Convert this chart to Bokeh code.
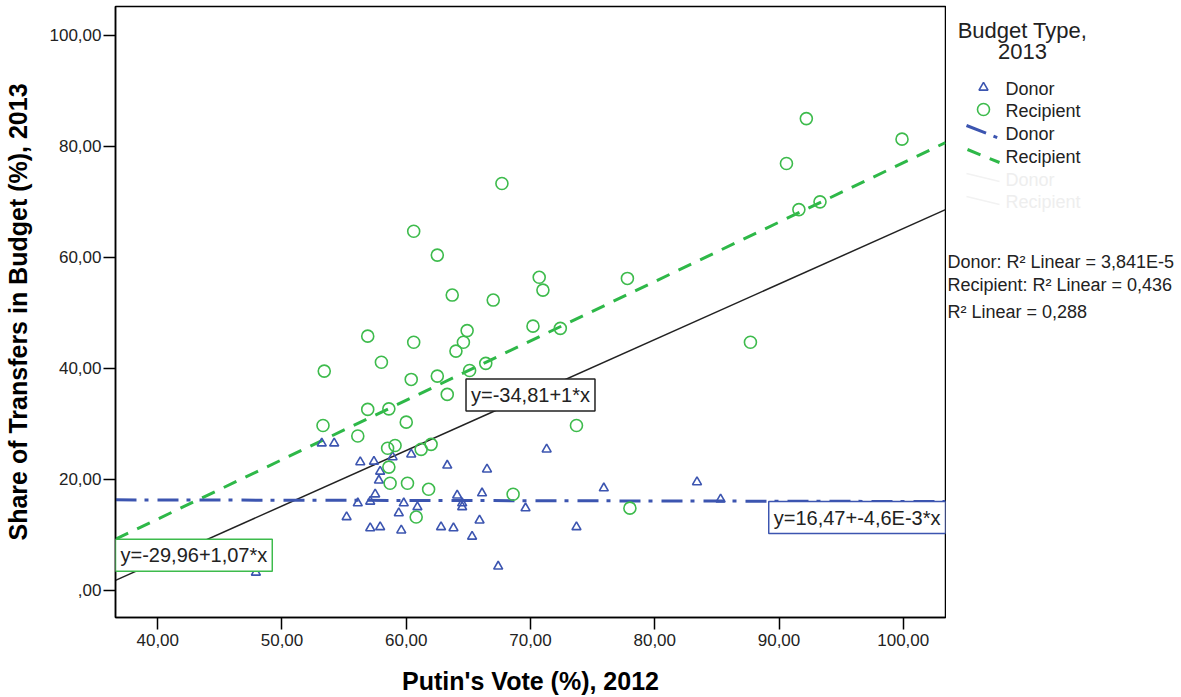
from bokeh.plotting import figure
from bokeh.layouts import row
from bokeh.models import Label, FixedTicker, Range1d
from bokeh.embed import file_html
from bokeh.resources import INLINE

# Regions: Putin's vote share in 2012 vs. share of transfers in the 2013 budget
donor_vote = [53.2, 54.2, 56.3, 57.4, 58.9, 60.4, 57.9, 57.8, 57.5, 56.1, 57.1, 59.8,
              59.4, 60.9, 55.2, 57.1, 57.9, 59.6, 71.3, 63.3, 66.5, 64.1, 66.1, 64.5,
              64.5, 69.6, 65.9, 62.8, 63.8, 65.3, 67.4, 75.9, 83.4, 85.3, 73.7, 47.9]
donor_transfers = [26.5, 26.5, 23.1, 23.2, 24.0, 24.5, 21.4, 19.8, 17.3, 15.7, 16.0, 15.7,
                   13.9, 15.0, 13.2, 11.2, 11.4, 10.8, 25.4, 22.5, 21.8, 17.1, 17.5, 15.7,
                   15.0, 14.8, 12.6, 11.4, 11.2, 9.7, 4.3, 18.4, 19.5, 16.4, 11.4, 3.2]

recipient_vote = [67.7, 60.6, 62.5, 70.7, 71.0, 77.8, 63.7, 67.0, 92.2, 90.6, 99.9, 91.6,
                  93.3, 87.7, 78.0, 73.7, 68.6, 64.9, 70.2, 72.4, 64.6, 64.0, 60.6, 58.0,
                  66.4, 65.1, 62.5, 60.4, 63.3, 58.6, 60.0, 59.1, 58.5, 61.2, 62.0, 58.6,
                  58.7, 60.1, 61.8, 60.8, 56.9, 53.4, 56.9, 53.3, 56.1]
recipient_transfers = [73.3, 64.7, 60.4, 56.4, 54.1, 56.2, 53.2, 52.3, 85.0, 76.9, 81.3, 68.6,
                       70.0, 44.7, 14.8, 29.7, 17.3, 46.8, 47.6, 47.2, 44.7, 43.1, 44.7, 41.1,
                       40.9, 39.6, 38.6, 38.0, 35.3, 32.7, 30.3, 26.1, 25.6, 25.4, 26.3, 22.2,
                       19.3, 19.3, 18.2, 13.2, 45.8, 39.5, 32.6, 29.7, 27.8]

# Linear fits: (intercept, slope)
fit_total = (-34.81, 1.0)
fit_donor = (16.47, -4.6e-3)
fit_recipient = (-29.96, 1.07)

eq_total = "y=-34,81+1*x"
eq_donor = "y=16,47+-4,6E-3*x"
eq_recipient = "y=-29,96+1,07*x"

legend_title = ["Budget Type,", "2013"]
legend_labels = ["Donor", "Recipient", "Donor", "Recipient", "Donor", "Recipient"]
r2_lines = ["Donor: R\u00b2 Linear = 3,841E-5",
            "Recipient: R\u00b2 Linear = 0,436",
            "R\u00b2 Linear = 0,288"]

x_ticks = [40, 50, 60, 70, 80, 90, 100]
x_tick_labels = ["40,00", "50,00", "60,00", "70,00", "80,00", "90,00", "100,00"]
y_ticks = [0, 20, 40, 60, 80, 100]
y_tick_labels = [",00", "20,00", "40,00", "60,00", "80,00", "100,00"]

X_MIN, X_MAX = 36.6, 103.4
Y_MIN, Y_MAX = -4.9, 105.2

BLUE = "#3c55b0"
GREEN = "#3dbb4c"
GREEN_LINE = "#2eb848"
INK = "#222222"
FONT = "Liberation Sans"

MAIN_W, H = 946, 697
SIDE_W = 1181 - MAIN_W
FRAME_TOP, FRAME_BOTTOM = 6, 617

p = figure(width=MAIN_W, height=H, output_backend="svg", toolbar_location=None,
           x_range=Range1d(X_MIN, X_MAX), y_range=Range1d(Y_MIN, Y_MAX),
           min_border_left=115, min_border_right=1, min_border_top=FRAME_TOP,
           min_border_bottom=H - FRAME_BOTTOM)
p.background_fill_color = "white"
p.border_fill_color = "white"
p.outline_line_color = "black"
p.outline_line_width = 1.5
p.xgrid.visible = False
p.ygrid.visible = False

for ax, ticks, labels in ((p.xaxis[0], x_ticks, x_tick_labels),
                          (p.yaxis[0], y_ticks, y_tick_labels)):
    ax.ticker = FixedTicker(ticks=ticks)
    ax.major_label_overrides = {t: l for t, l in zip(ticks, labels)}
    ax.minor_tick_line_color = None
    ax.major_tick_out = 12
    ax.major_tick_in = 0
    ax.major_tick_line_color = "black"
    ax.major_tick_line_width = 1.5
    ax.axis_line_color = "black"
    ax.axis_line_width = 1.5
    ax.major_label_text_font = FONT
    ax.major_label_text_font_size = "17px"
    ax.major_label_text_color = INK
    ax.axis_label_text_font = FONT
    ax.axis_label_text_font_style = "bold"
    ax.axis_label_text_font_size = "25px"
    ax.axis_label_text_color = "black"

p.xaxis.axis_label = "Putin's Vote (%), 2012"
p.yaxis.axis_label = "Share of Transfers in Budget (%), 2013"
p.xaxis.major_label_standoff = 4
p.yaxis.major_label_standoff = 2
p.xaxis.axis_label_standoff = 18
p.yaxis.axis_label_standoff = 15

# Fit lines across the full x range
xs = [X_MIN, X_MAX]
def fit_y(fit, x):
    return fit[0] + fit[1] * x

p.line(xs, [fit_y(fit_total, x) for x in xs], line_color=INK, line_width=1.5)
p.line(xs, [fit_y(fit_recipient, x) for x in xs], line_color=GREEN_LINE,
       line_width=3, line_dash="14 10")
p.line(xs, [fit_y(fit_donor, x) for x in xs], line_color=BLUE,
       line_width=3, line_dash="21 8 4 9")

p.scatter(donor_vote, donor_transfers, marker="triangle", size=9,
          fill_color=None, line_color=BLUE, line_width=1.6)
p.scatter(recipient_vote, recipient_transfers, marker="circle", size=12,
          fill_color=None, line_color=GREEN, line_width=1.6)

# Equation boxes attached to the fit lines
x_mid = (X_MIN + X_MAX) / 2
for text, x, y, anchor, color in (
        (eq_recipient, X_MIN, fit_y(fit_recipient, X_MIN), "top_left", GREEN),
        (eq_total, x_mid, fit_y(fit_total, x_mid), "center", INK),
        (eq_donor, X_MAX, fit_y(fit_donor, X_MAX), "top_right", BLUE)):
    p.add_layout(Label(x=x, y=y, text=text, anchor=anchor, text_font=FONT,
                       text_font_size="20px", text_color=INK,
                       background_fill_color="white", border_line_color=color,
                       border_line_width=1.5, padding=5))

# Side panel for the legend and R-squared notes; its frame lines up with the
# main frame, so its ranges are set to follow page pixels
side = figure(width=SIDE_W, height=H, output_backend="svg", toolbar_location=None,
              x_range=Range1d(MAIN_W, MAIN_W + SIDE_W),
              y_range=Range1d(FRAME_BOTTOM, FRAME_TOP),
              x_axis_location=None, y_axis_location=None,
              min_border=0, min_border_top=FRAME_TOP,
              min_border_bottom=H - FRAME_BOTTOM, outline_line_color=None)
side.xgrid.visible = False
side.ygrid.visible = False
side.background_fill_color = "white"
side.border_fill_color = "white"

def note(text, x, y, size, color=INK, align="left"):
    side.add_layout(Label(x=x, y=y, text=text, text_align=align,
                          text_baseline="middle", text_font=FONT,
                          text_font_size=size, text_color=color))

note(legend_title[0], 1022, 30, "22px", align="center")
note(legend_title[1], 1022, 51, "22px", align="center")

# Legend symbols
side.scatter([983], [87], marker="triangle", size=9, fill_color=None,
             line_color=BLUE, line_width=1.6)
side.scatter([983], [109], marker="circle", size=12, fill_color=None,
             line_color=GREEN, line_width=1.6)
side.line([966, 999], [125, 138], line_color=BLUE, line_width=3, line_dash="21 8 4 9")
side.line([967, 999], [149, 162], line_color=GREEN_LINE, line_width=3, line_dash="14 10")
side.line([966, 999], [173, 181], line_color="#f2f2f2", line_width=1.5)
side.line([966, 999], [196, 204], line_color="#f2f2f2", line_width=1.5)

for label, sy, color in zip(legend_labels, (88, 110, 133, 156, 179, 201),
                            (INK, INK, INK, INK, "#eeeeee", "#eeeeee")):
    note(label, 1005, sy, "18px", color=color)

for text, sy in zip(r2_lines, (261, 284, 311)):
    note(text, 947, sy, "18px")

layout = row(p, side, spacing=0)
open("out.html", "w").write(file_html(layout, INLINE))
